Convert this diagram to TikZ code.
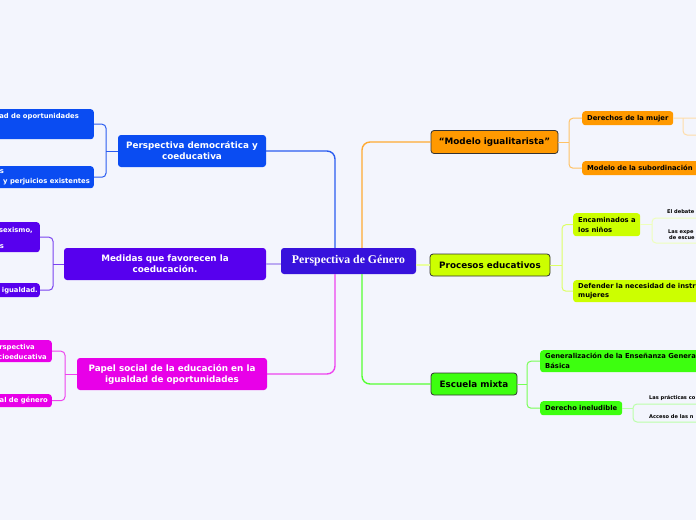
\documentclass[tikz,border=0pt]{standalone}
\usepackage{fontspec}
\newfontfamily\dv{DejaVu Sans}
\newfontfamily\ls{Liberation Serif}
\usetikzlibrary{calc}
\definecolor{bg}{HTML}{F3F5FD}
\definecolor{ccentral}{HTML}{3712DC}
\definecolor{cblue}{HTML}{0A4CF2}
\definecolor{cpurple}{HTML}{5700EE}
\definecolor{cmag}{HTML}{E800E8}
\definecolor{corange}{HTML}{FF9900}
\definecolor{cyel}{HTML}{CCFF00}
\definecolor{cgreen}{HTML}{3DFF0F}
\definecolor{lblue}{HTML}{2A5CF0}
\definecolor{llav}{HTML}{BBAAF2}
\definecolor{lpur}{HTML}{7A44F0}
\definecolor{lmag}{HTML}{EE44EE}
\definecolor{lorange}{HTML}{FFAA33}
\definecolor{lorange2}{HTML}{FFC266}
\definecolor{lorange3}{HTML}{FFDDAA}
\definecolor{lyel}{HTML}{EAFFA0}
\definecolor{lyel2}{HTML}{DDFF66}
\definecolor{lyel3}{HTML}{EEFFBB}
\definecolor{lgreen}{HTML}{55FF33}
\definecolor{lgreen2}{HTML}{77FF55}
\definecolor{lgreen3}{HTML}{BBFFAA}
\tikzset{
  box/.style={rounded corners=3pt, inner sep=0pt, align=center},
  mainf/.style={font=\dv\bfseries\fontsize{8.8}{11}\selectfont},
  childf/.style={font=\dv\bfseries\fontsize{6.8}{9.8}\selectfont},
  gcf/.style={font=\dv\bfseries\fontsize{5.1}{6}\selectfont, inner sep=0pt},
  rbox/.style={box, childf, anchor=north west, align=left, inner xsep=5pt},
  ltxt/.style={childf, text=white, anchor=east, inner sep=0pt},
  mainline/.style={line width=1.4pt, rounded corners=8pt},
  brline/.style={line width=1pt, rounded corners=4pt},
}
\begin{document}
\begin{tikzpicture}[x=1pt,y=-1pt]
\useasboundingbox (0,0) rectangle (696,520);
\clip (0,0) rectangle (696,520);
\fill[bg] (0,0) rectangle (696,520);
\coordinate (cb) at (335,0);
\coordinate (co) at (362,0);

% central
\node[box, fill=ccentral, text=white, minimum width=135pt, minimum height=26pt,
  font=\ls\bfseries\fontsize{11.8}{13}\selectfont] (central) at (348.5,261) {Perspectiva de Género};

% left main boxes
\node[box, mainf, fill=cblue, text=white, minimum width=148pt, minimum height=32pt] (democ) at (192,151) {Perspectiva democrática y\\coeducativa};
\node[box, mainf, fill=cpurple, text=white, minimum width=202pt, minimum height=32pt] (medidas) at (165,264) {Medidas que favorecen la\\coeducación.};
\node[box, mainf, fill=cmag, text=white, minimum width=190pt, minimum height=32pt] (papel) at (172,374) {Papel social de la educación en la\\igualdad de oportunidades};

% right main boxes
\node[box, mainf, fill=corange, draw=black!80, line width=0.8pt, minimum width=127pt, minimum height=23pt] (modelo) at (494.5,142) {“Modelo igualitarista”};
\node[box, mainf, fill=cyel, draw=black!80, line width=0.8pt, minimum width=120pt, minimum height=22pt] (procesos) at (490,265) {Procesos educativos};
\node[box, mainf, fill=cgreen, draw=black!80, line width=0.8pt, minimum width=86pt, minimum height=22pt] (escuela) at (474,384) {Escuela mixta};

% main connectors
\draw[mainline, lblue] (democ.east) -- (democ.east -| cb) -- (central.north -| cb);
\draw[mainline, lmag] (central.south -| cb) -- (papel.east -| cb) -- (papel.east);
\draw[mainline, lorange] (central.north -| co) -- (modelo.west -| co) -- (modelo.west);
\draw[mainline, lgreen] (central.south -| co) -- (escuela.west -| co) -- (escuela.west);
\draw[line width=1.4pt, llav] (central.west |- medidas.east) -- (medidas.east);
\draw[line width=1.4pt, lyel] (central.east |- procesos.west) -- (procesos.west);

% left children: democratica
\node[box, fill=cblue, anchor=north east, minimum width=140pt, minimum height=30pt] (dc1) at (94,109) {};
\node[box, fill=cblue, anchor=north east, minimum width=140pt, minimum height=22pt] (dc2) at (94,166) {};
\node[ltxt] (dc1a) at (79,117) {ad de oportunidades};
\node[ltxt] (dc2a) at (4,172) {s};
\node[ltxt] (dc2b) at (90,182) {y perjuicios existentes};
\coordinate (bd) at (106,151);
\draw[brline, lblue] (democ.west) -- (bd);
\draw[brline, lblue] (dc1.east) -- (dc1.east -| bd) |- (dc2.east);

% left children: medidas
\node[box, fill=cpurple, anchor=north east, minimum width=100pt, minimum height=30pt] (mc1) at (40,222) {};
\node[box, fill=cpurple, anchor=north east, minimum width=100pt, minimum height=14pt] (mc2) at (40,283) {};
\node[ltxt] (mc1a) at (33,230) {sexismo,};
\node[ltxt] (mc1b) at (4,246.5) {s};
\node[ltxt] (mc2a) at (38,290.5) {igualdad.};
\coordinate (bm) at (53,264);
\draw[brline, lpur] (medidas.west) -- (bm);
\draw[brline, lpur] (mc1.east) -- (mc1.east -| bm) |- (mc2.east);

% left children: papel
\node[box, fill=cmag, anchor=north east, minimum width=100pt, minimum height=22pt] (pc1) at (52,340) {};
\node[box, fill=cmag, anchor=north east, minimum width=100pt, minimum height=13pt] (pc2) at (52,394) {};
\node[ltxt] (pc1a) at (35,347.5) {rspectiva};
\node[ltxt] (pc1b) at (47,356.5) {cioeducativa};
\node[ltxt] (pc2a) at (48,401) {al de género};
\coordinate (bp) at (65,374);
\draw[brline, lmag] (papel.west) -- (bp);
\draw[brline, lmag] (pc1.east) -- (pc1.east -| bp) |- (pc2.east);

% right children: modelo
\node[rbox, fill=corange, text width=81pt, minimum height=14pt] (derechos) at (582,111) {\mbox{Derechos de la mujer}};
\node[rbox, fill=corange, text width=190pt, minimum height=14pt] (subord) at (582,161) {Modelo de la subordinación};
\coordinate (bo) at (569,142);
\draw[brline, lorange2] (modelo.east) -- (bo);
\draw[brline, lorange2] (derechos.west) -- (derechos.west -| bo) |- (subord.west);
\coordinate (bo2) at (683,118);
\coordinate (eo) at (700,135);
\draw[brline, lorange3] (derechos.east) -- (bo2) -- (bo2 -| eo);
\draw[brline, lorange3] (bo2) |- (eo);

% right children: procesos
\node[rbox, fill=cyel, text width=57pt, minimum height=23pt] (encam) at (573,213) {\mbox{Encaminados a}\\los niños};
\node[rbox, fill=cyel, text width=190pt, minimum height=22pt] (defender) at (573,280) {Defender la necesidad de instr\\mujeres};
\coordinate (by) at (562,265);
\draw[brline, lyel2] (procesos.east) -- (by);
\draw[brline, lyel2] (encam.west) -- (encam.west -| by) |- (defender.west);
\coordinate (by2a) at (652,218);
\coordinate (by2b) at (652,243);
\coordinate (ey) at (700,0);
\draw[brline, lyel3] (encam.east) -- (encam.east -| by2a);
\draw[brline, lyel3] (by2a -| ey) -- (by2a) -- (by2b) -- (by2b -| ey);
\node[gcf, anchor=west] (gdeb) at (667,211.5) {El debate};
\node[gcf, anchor=west] (gexp1) at (668,232) {Las expe};
\node[gcf, anchor=west] (gexp2) at (669,238) {de escue};

% right children: escuela
\node[rbox, fill=cgreen, text width=220pt, minimum height=22pt] (general) at (540,350) {Generalización de la Enseñanza Genera\\Básica};
\node[rbox, fill=cgreen, text width=72pt, minimum height=14pt] (ineludible) at (540,401) {\mbox{Derecho ineludible}};
\coordinate (bg1) at (527,384);
\draw[brline, lgreen2] (escuela.east) -- (bg1);
\draw[brline, lgreen2] (general.west) -- (general.west -| bg1) |- (ineludible.west);
\coordinate (bg2a) at (633,404);
\coordinate (bg2b) at (633,422);
\draw[brline, lgreen3] (ineludible.east) -- (ineludible.east -| bg2a);
\draw[brline, lgreen3] (bg2a -| ey) -- (bg2a) -- (bg2b) -- (bg2b -| ey);
\node[gcf, anchor=west] (gprac) at (649,397.5) {Las prácticas co};
\node[gcf, anchor=west] (gacc) at (649,417) {Acceso de las n};
\end{tikzpicture}
\end{document}
